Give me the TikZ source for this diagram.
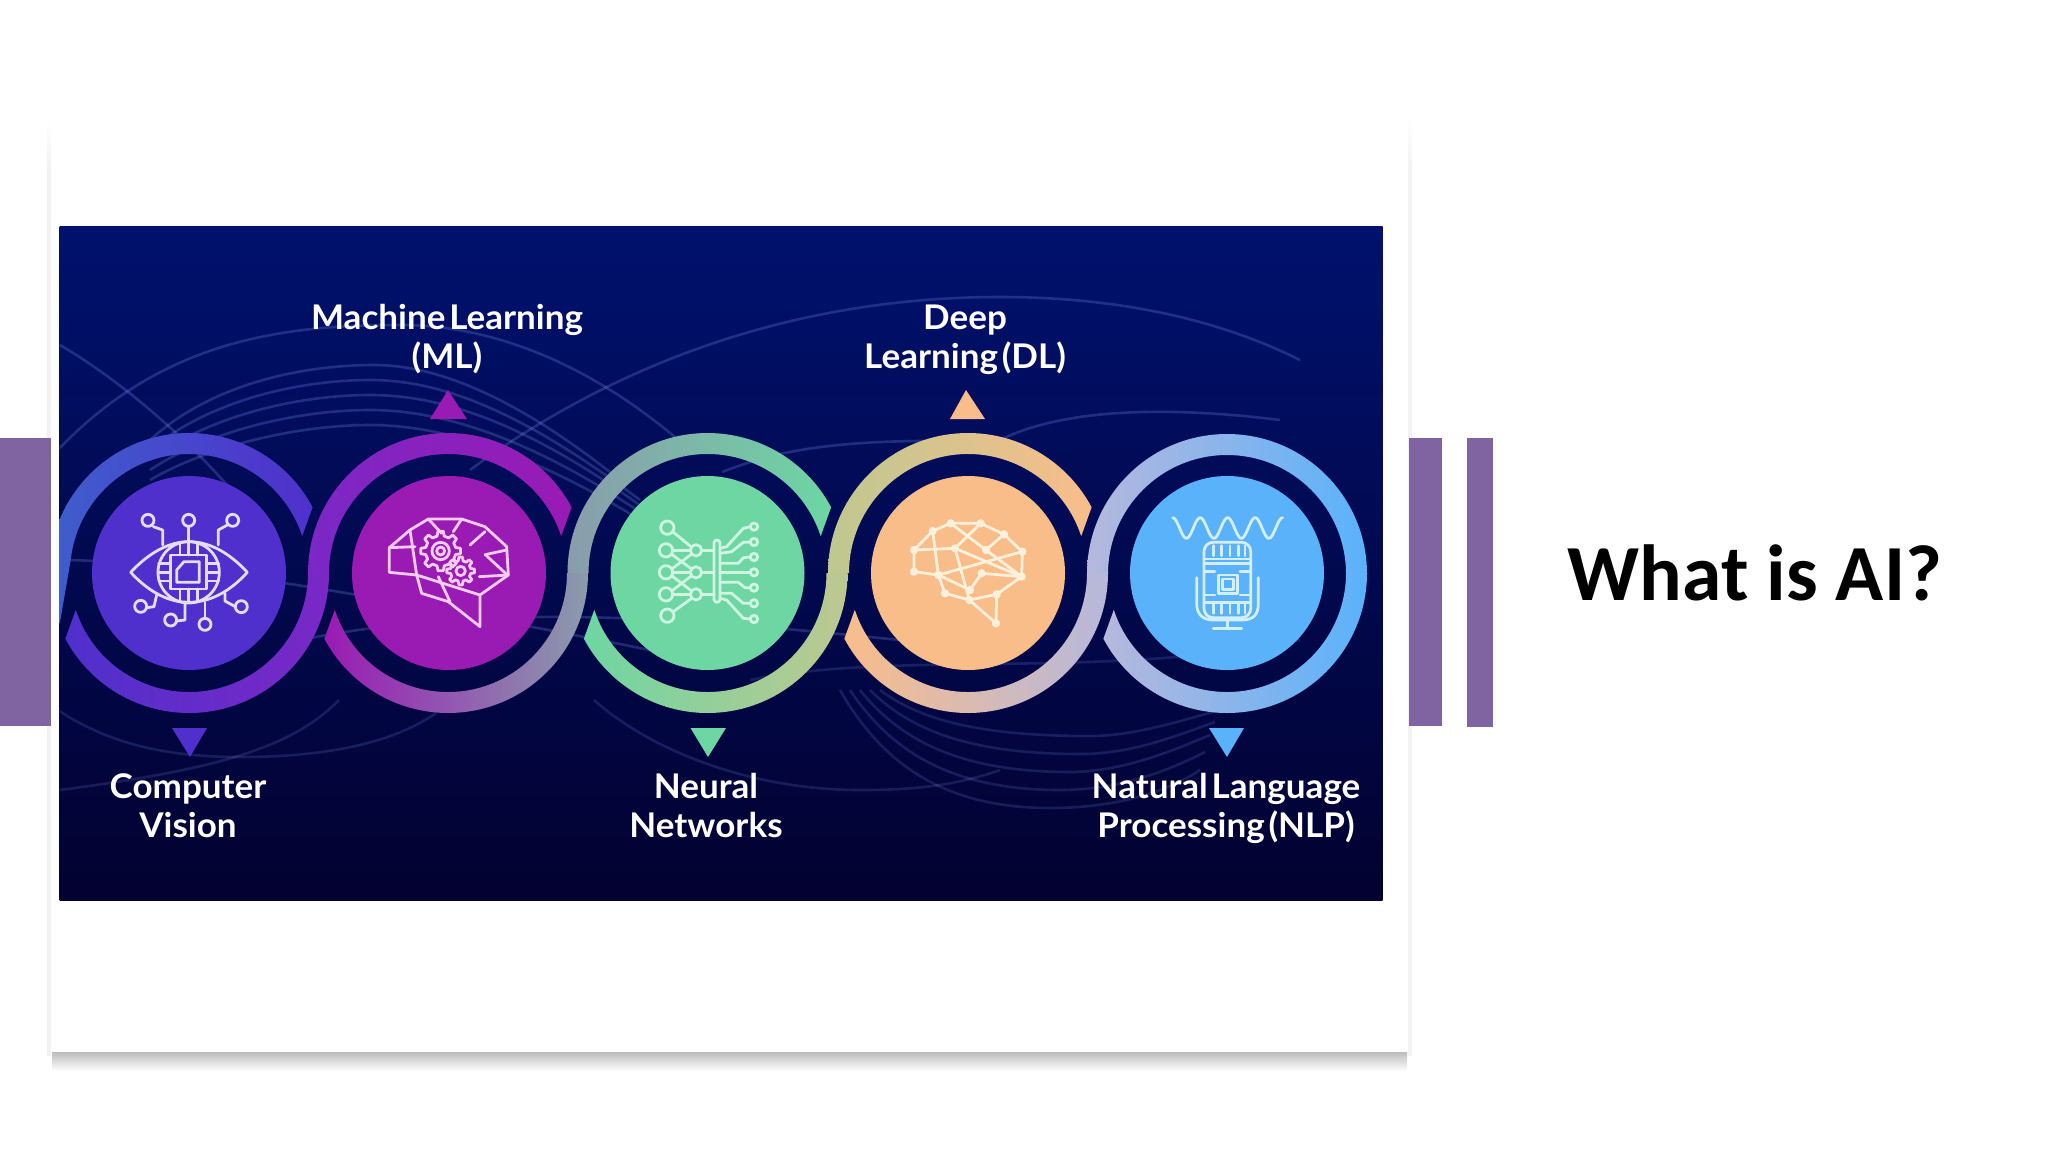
\documentclass[tikz,border=0pt]{standalone}
\usepackage{fontspec}
\newfontfamily\lab[FakeStretch=1.03,WordSpace=0.45]{Lato Bold}
\newfontfamily\ttl{Carlito}
\definecolor{barp}{HTML}{8064A2}
\definecolor{cA}{HTML}{4F30CC}
\definecolor{cB}{HTML}{9A1AB4}
\definecolor{cC}{HTML}{6DD6A3}
\definecolor{cD}{HTML}{F9BD8A}
\definecolor{cE}{HTML}{5AB2FB}
\definecolor{bgT}{HTML}{00116E}
\definecolor{bgM}{HTML}{010C5A}
\definecolor{bgB}{HTML}{020130}
\definecolor{rA}{HTML}{3D62CC}
\definecolor{rB}{HTML}{7A28C6}
\definecolor{rC}{HTML}{8A9CAC}
\definecolor{rD}{HTML}{BEC890}
\definecolor{rE}{HTML}{B6B8DC}
\definecolor{iA}{HTML}{E4DCFA}
\definecolor{iB}{HTML}{F4CCF4}
\definecolor{iC}{HTML}{CFF5E2}
\definecolor{iD}{HTML}{FFF0DC}
\definecolor{iE}{HTML}{D2EEFF}
\definecolor{wv}{HTML}{7C92EC}
\tikzset{
  bar/.style={fill=barp,draw=none},
  disc/.style={circle,minimum size=194pt,inner sep=0pt,draw=none},
  lab/.style={text=white,align=center,font=\lab\fontsize{34}{39}\selectfont,inner sep=0pt,anchor=base},
  wave/.style={draw=wv,draw opacity=.26,line width=2.6pt,fill=none},
  icon/.style={line width=2.8pt,line cap=round,line join=round,fill=none},
}
\newcommand{\rtop}[3]{\shade[left color=#2,right color=#3]
  ({#1-140},573) arc[start angle=180,end angle=332,radius=140]
  -- ({#1+119*cos(342)},{573+119*sin(342)}) arc[start angle=342,end angle=180,radius=119] -- cycle;}
\newcommand{\rbot}[3]{\shade[left color=#2,right color=#3]
  ({#1+140},573) arc[start angle=0,end angle=152,radius=140]
  -- ({#1+119*cos(162)},{573+119*sin(162)}) arc[start angle=162,end angle=0,radius=119] -- cycle;}
\newcommand{\gearshape}[5]{%
  \pgfmathsetmacro{\gs}{360/#5}
  \draw ({#1+#4*cos(-\gs*.3)},{#2+#4*sin(-\gs*.3)})
  \foreach \k in {1,...,#5}{
    -- ({#1+#3*cos(\k*\gs-\gs-\gs*.17)},{#2+#3*sin(\k*\gs-\gs-\gs*.17)})
    -- ({#1+#3*cos(\k*\gs-\gs+\gs*.17)},{#2+#3*sin(\k*\gs-\gs+\gs*.17)})
    -- ({#1+#4*cos(\k*\gs-\gs+\gs*.3)},{#2+#4*sin(\k*\gs-\gs+\gs*.3)})
    -- ({#1+#4*cos(\k*\gs-\gs+\gs*.7)},{#2+#4*sin(\k*\gs-\gs+\gs*.7)})
  } -- cycle;}
\begin{document}
\begin{tikzpicture}[x=1pt,y=1pt,yscale=-1]
\useasboundingbox (0,0) rectangle (2048,1152);
\fill[white] (0,0) rectangle (2048,1152);
% card shadow and edges
\shade[top color=black!26,bottom color=white] (52,1052) rectangle (1407,1071);
\shade[top color=white,bottom color=black!5] (47,118) rectangle (51,170);
\fill[black!5] (47,170) rectangle (51,1056);
\shade[top color=white,bottom color=black!5] (1408,118) rectangle (1412,170);
\fill[black!5] (1408,170) rectangle (1412,1056);
\fill[white] (51,120) rectangle (1408,1052);
% purple bars
\fill[bar] (0,438) rectangle (51,726);
\fill[bar] (1409,438) rectangle (1442,726);
\fill[bar] (1467,438) rectangle (1493,727);
% picture
\begin{scope}
\clip (59.5,226) rectangle (1382.5,900);
\shade[top color=bgT,middle color=bgM,bottom color=bgB] (59.5,226) rectangle (1382.5,900);
% background waves
\draw[wave] (40,470) .. controls (150,340) and (280,325) .. (400,325) .. controls (500,325) and (600,370) .. (690,450);
\draw[wave] (470,470) .. controls (620,360) and (800,297) .. (1000,297) .. controls (1120,297) and (1220,320) .. (1300,360);
\draw[wave] (150,440) .. controls (210,385) and (300,365) .. (374,365) .. controls (440,365) and (520,400) .. (620,480);
\draw[wave] (150,450) .. controls (210,400) and (300,380) .. (370,380) .. controls (440,380) and (520,410) .. (640,500);
\draw[wave] (150,460) .. controls (210,415) and (300,395) .. (370,395) .. controls (450,395) and (540,430) .. (660,520);
\draw[wave] (150,470) .. controls (210,430) and (300,410) .. (370,410) .. controls (450,410) and (550,445) .. (680,540);
\draw[wave] (150,480) .. controls (210,445) and (300,425) .. (370,425) .. controls (450,425) and (560,460) .. (700,560);
\draw[wave] (60,345) .. controls (120,380) and (190,440) .. (240,500);
\draw[wave] (790,452) .. controls (850,440) and (940,438) .. (1020,445);
\draw[wave] (1000,440) .. controls (1060,410) and (1160,405) .. (1280,420);
\draw[wave] (722,472) .. controls (740,465) and (770,455) .. (790,452);
\draw[wave] (60,560) .. controls (200,560) and (500,620) .. (700,660);
\draw[wave] (300,640) .. controls (500,600) and (700,620) .. (900,640);
\draw[wave,draw opacity=.18] (58,710) .. controls (110,745) and (170,757) .. (240,757) .. controls (320,757) and (390,745) .. (436,713);
\draw[wave,draw opacity=.18] (339,700) .. controls (290,750) and (210,770) .. (60,790);
\draw[wave,draw opacity=.18] (594,700) .. controls (650,750) and (750,790) .. (860,790) .. controls (900,790) and (950,788) .. (1000,770);
\draw[wave,draw opacity=.18] (840,690) .. controls (880,760) and (940,808) .. (1050,808) .. controls (1120,808) and (1170,790) .. (1200,770);
\draw[wave,draw opacity=.18] (850,690) .. controls (890,750) and (950,790) .. (1060,790) .. controls (1120,790) and (1170,770) .. (1205,752);
\draw[wave,draw opacity=.18] (860,690) .. controls (900,740) and (960,772) .. (1070,772) .. controls (1120,772) and (1170,752) .. (1210,735);
\draw[wave,draw opacity=.18] (870,690) .. controls (910,730) and (970,754) .. (1080,754) .. controls (1130,754) and (1170,738) .. (1215,722);
\draw[wave,draw opacity=.18] (880,690) .. controls (920,720) and (980,736) .. (1090,736) .. controls (1130,736) and (1170,724) .. (1220,710);
\draw[wave,draw opacity=.18] (750,680) .. controls (900,650) and (1100,680) .. (1300,640);
% rings
\shade[left color=rA,right color=cA]
  ({189+140*cos(158)},{573+140*sin(158)}) arc[start angle=158,end angle=332,radius=140]
  -- ({189+119*cos(342)},{573+119*sin(342)}) arc[start angle=342,end angle=186,radius=119]
  -- (60,622) -- cycle;
\rbot{189}{cA}{rB}
\rtop{448}{rB}{cB}
\shade[left color=cB,middle color=cB!65!rC,right color=rC]
  (588,573) arc[start angle=0,end angle=152,radius=140]
  -- ({448+119*cos(162)},{573+119*sin(162)}) arc[start angle=162,end angle=0,radius=119] -- cycle;
\shade[left color=rC,middle color=cC,right color=cC]
  (567.5,573) arc[start angle=180,end angle=332,radius=140]
  -- ({707.5+119*cos(342)},{573+119*sin(342)}) arc[start angle=342,end angle=180,radius=119] -- cycle;
\shade[left color=cC,middle color=cC,right color=rD]
  (847.5,573) arc[start angle=0,end angle=152,radius=140]
  -- ({707.5+119*cos(162)},{573+119*sin(162)}) arc[start angle=162,end angle=0,radius=119] -- cycle;
\shade[left color=rD,middle color=cD,right color=cD]
  (828,573) arc[start angle=180,end angle=332,radius=140]
  -- ({968+119*cos(342)},{573+119*sin(342)}) arc[start angle=342,end angle=180,radius=119] -- cycle;
\shade[left color=cD,middle color=cD,right color=rE]
  (1108,573) arc[start angle=0,end angle=152,radius=140]
  -- ({968+119*cos(162)},{573+119*sin(162)}) arc[start angle=162,end angle=0,radius=119] -- cycle;
\shade[left color=rE,right color=cE]
  (1087,574) arc[start angle=180,end angle=360,radius=140]
  -- (1346,574) arc[start angle=360,end angle=180,radius=119] -- cycle;
\rbot{1227}{rE}{cE}
% discs
\node[disc,fill=cA] (dA) at (189,573) {};
\node[disc,fill=cB] (dB) at (449,573) {};
\node[disc,fill=cC] (dC) at (707.5,573) {};
\node[disc,fill=cD] (dD) at (968,573) {};
\node[disc,fill=cE] (dE) at (1227,573) {};
% triangles
\fill[cB] (448,390) -- (467,419) -- (430,419) -- cycle;
\fill[cD] (966,390) -- (985,419) -- (950,419) -- cycle;
\fill[cA] (190,757) -- (172,728) -- (207,728) -- cycle;
\fill[cC] (708,757) -- (690.5,728) -- (726,728) -- cycle;
\fill[cE] (1227,757) -- (1209,728) -- (1244,728) -- cycle;
% icon: eye
\begin{scope}[shift={(110,495)},scale=.3333,icon,draw=iA]
\draw (62,232) .. controls (120,170) and (180,140) .. (236,140) .. controls (295,140) and (355,170) .. (412,232) .. controls (355,295) and (295,322) .. (236,322) .. controls (180,322) and (120,295) .. (62,232) -- cycle;
\draw (236,232) circle[radius=92];
\draw (182,180) rectangle (290,282);
\draw (200,262) -- (200,225) -- (222,200) -- (268,200) -- (268,262) -- cycle;
\foreach \x in {210,236,262}{\draw (\x,145) -- (\x,180); \draw (\x,282) -- (\x,318);}
\foreach \y in {206,232,258}{\draw (146,\y) -- (182,\y); \draw (290,\y) -- (326,\y);}
\foreach \x/\y in {114/76,236/76,368/76,92/334,182/375,285/388,394/335}{\draw (\x,\y) circle[radius=18];}
\draw (130,95) -- (158,105) -- (158,150);
\draw (236,94) -- (236,140);
\draw (352,90) -- (325,105) -- (325,150);
\draw (110,338) -- (132,335) -- (140,300);
\draw (200,378) -- (225,375) -- (225,320);
\draw (285,370) -- (285,322);
\draw (376,335) -- (345,318) -- (345,295);
\end{scope}
% icon: brain with gears
\begin{scope}[shift={(370,495)},scale=.3333,icon,draw=iB]
\draw (58,158) -- (120,105) -- (175,72) -- (275,72) -- (345,95) -- (410,155) -- (415,240) -- (330,300) -- (330,395) -- (235,320) -- (155,295) -- (140,240) -- (58,232) -- cycle;
\draw (140,240) -- (330,300);
\draw (120,105) -- (140,240);
\draw (58,158) -- (135,155);
\draw (175,72) -- (215,115);
\draw (275,72) -- (250,110);
\draw (300,150) -- (345,110);
\draw (350,178) -- (410,165);
\draw (345,178) -- (412,240);
\draw (328,245) -- (415,240);
\draw (205,245) -- (240,320);
\gearshape{212}{168}{60}{46}{8}
\draw (212,168) circle[radius=26];
\draw (212,168) circle[radius=12];
\gearshape{272}{228}{42}{31}{8}
\draw (272,228) circle[radius=14];
\end{scope}
% icon: neural network
\begin{scope}[shift={(630,495)},scale=.3333,icon,draw=iC]
\foreach \x/\y in {112/98,108/166,108/232,108/298,112/362}{\draw (\x,\y) circle[radius=20];}
\foreach \y in {166,232,298}{\draw (198,\y) circle[radius=17];}
\foreach \y in {95,141,186,232,278,325,372}{\draw (372,\y) circle[radius=11];}
\draw[rounded corners=3pt] (252,135) rectangle (270,322);
\draw (128,110) -- (183,155);
\draw (128,166) -- (181,166);
\draw (125,178) -- (185,222);
\draw (128,232) -- (181,232);
\draw (125,222) -- (185,177);
\draw (125,288) -- (185,242);
\draw (128,298) -- (181,298);
\draw (125,242) -- (185,288);
\draw (130,350) -- (185,310);
\foreach \y in {166,232,298}{\draw (215,\y) -- (252,\y);}
\draw (270,160) -- (290,155) -- (340,100) -- (361,95);
\draw (270,175) -- (305,170) -- (340,142) -- (361,141);
\draw (270,205) -- (325,205) -- (340,188) -- (361,186);
\draw (270,232) -- (361,232);
\draw (270,262) -- (325,262) -- (345,278) -- (361,278);
\draw (270,295) -- (305,295) -- (340,325) -- (361,325);
\draw (270,310) -- (290,315) -- (340,370) -- (361,372);
\end{scope}
% icon: mesh brain
\begin{scope}[shift={(890,495)},scale=.3333,icon,draw=iD]
\foreach \n/\x/\y in {a/72/165,b/128/108,c/182/85,d/272/85,e/342/118,f/397/170,g/395/245,h/320/298,i/318/385,j/238/315,k/240/285,l/165/295,m/145/240,n/72/230,o/195/160,p/288/165,q/275/235}{
  \coordinate (\n) at (\x,\y);
  \draw (\n) circle[radius=8];}
\draw (a) -- (b) -- (c) -- (d) -- (e) -- (f) -- (g) -- (h) -- (i) -- (j) -- (l) -- (m) -- (n) -- (a) -- (o);
\draw (b) -- (m);
\draw (c) -- (p);
\draw (d) -- (o);
\draw (e) -- (p);
\draw (o) -- (j);
\draw (o) -- (g);
\draw (f) -- (m);
\draw (q) -- (g);
\draw (q) -- (k);
\draw (m) -- (k);
\draw (h) -- (j);
\draw (p) -- (g);
\end{scope}
% icon: microphone
\begin{scope}[shift={(1150,495)},scale=.3333,icon,draw=iE]
\draw plot[domain=0:4,samples=80] ({68+\x*82.5},{99-31*cos(\x*360)});
\draw[rounded corners=9pt] (162,142) rectangle (302,368);
\draw (162,192) -- (302,192);
\draw (162,206) -- (302,206);
\foreach \x in {190,215,240,265,285}{\draw (\x,152) -- (\x,182);}
\draw (205,240) rectangle (262,295);
\draw (218,252) rectangle (250,283);
\draw (165,230) -- (195,230);
\draw (270,230) -- (300,230);
\draw (165,300) -- (195,300);
\draw (270,300) -- (300,300);
\draw (162,322) -- (302,322);
\foreach \x in {190,215,240,265,285}{\draw (\x,328) -- (\x,355);}
\draw (140,248) -- (140,325) .. controls (140,360) and (160,375) .. (190,375) -- (275,375) .. controls (310,375) and (325,360) .. (325,325) -- (325,248);
\draw (232,375) -- (232,400);
\draw (190,400) -- (275,400);
\end{scope}
\end{scope}
% labels
\node[lab] (tML) at (447,329) {Machine Learning};
\node[lab] (tML2) at (447,368) {(ML)};
\node[lab] (tDL) at (965,329) {Deep};
\node[lab] (tDL2) at (965,368) {Learning (DL)};
\node[lab] (tCV) at (188,798) {Computer};
\node[lab] (tCV2) at (188,837) {Vision};
\node[lab] (tNN) at (706,798) {Neural};
\node[lab] (tNN2) at (706,837) {Networks};
\node[lab] (tNL) at (1226,798) {Natural Language};
\node[lab] (tNL2) at (1226,837) {Processing (NLP)};
% title
\node[font=\ttl\bfseries\fontsize{79.5}{90}\selectfont,text=black,inner sep=0pt,anchor=base] (title) at (1755,600) {What is AI?};
\end{tikzpicture}
\end{document}
